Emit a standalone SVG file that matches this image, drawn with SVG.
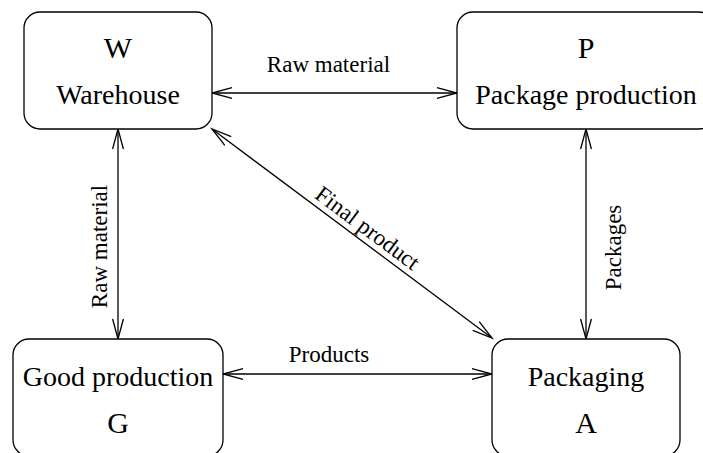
<svg xmlns="http://www.w3.org/2000/svg" width="703" height="453" viewBox="0 0 703 453">
  <style>
    .box { fill: #ffffff; stroke: #000000; stroke-width: 1.3; }
    .name { font-size: 28px; text-anchor: middle; fill: #000000; }
    .letter { font-size: 30px; text-anchor: middle; fill: #000000; }
    .edge { fill: none; stroke: #000000; stroke-width: 1.3; marker-start: url(#head); marker-end: url(#head); }
    .elabel { font-size: 23px; text-anchor: middle; fill: #000000; }
  </style>
  <defs>
    <!-- open V arrowhead, used at both ends of every connector -->
    <marker id="head" markerUnits="userSpaceOnUse" markerWidth="24" markerHeight="14" refX="22" refY="7" orient="auto-start-reverse" overflow="visible">
      <path d="M 2 1.6 L 22 7 L 2 12.4" fill="none" stroke="#000000" stroke-width="1.3"/>
    </marker>
  </defs>
  <rect width="703" height="453" fill="#ffffff"/>

  <g font-family="'Liberation Serif', 'DejaVu Serif', serif">
    <!-- connectors -->
    <g id="connectors">
      <line class="edge" x1="212" y1="93" x2="457" y2="93"/>
      <line class="edge" x1="118" y1="129" x2="118" y2="339"/>
      <line class="edge" x1="586" y1="129" x2="586" y2="339"/>
      <line class="edge" x1="223" y1="374" x2="492" y2="374"/>
      <line class="edge" x1="212" y1="129" x2="492" y2="338"/>
      <text class="elabel" x="328.5" y="72">Raw material</text>
      <text class="elabel" x="329" y="362">Products</text>
      <text class="elabel" transform="translate(107,246.5) rotate(-90)">Raw material</text>
      <text class="elabel" transform="translate(621,247.5) rotate(-90)">Packages</text>
      <text class="elabel" transform="translate(359.4,239) rotate(36.7)" y="-6">Final product</text>
    </g>

    <!-- nodes -->
    <g id="node-W">
      <rect class="box" x="24" y="12" width="188" height="117" rx="16" ry="16"/>
      <text class="letter" x="118" y="58">W</text>
      <text class="name" x="118" y="104">Warehouse</text>
    </g>
    <g id="node-P">
      <rect class="box" x="457" y="12" width="258" height="117" rx="16" ry="16"/>
      <text class="letter" x="586" y="58">P</text>
      <text class="name" x="586" y="104">Package production</text>
    </g>
    <g id="node-G">
      <rect class="box" x="13" y="339" width="210" height="117" rx="16" ry="16"/>
      <text class="name" x="118" y="386">Good production</text>
      <text class="letter" x="118" y="433">G</text>
    </g>
    <g id="node-A">
      <rect class="box" x="492" y="339" width="188" height="117" rx="16" ry="16"/>
      <text class="name" x="586" y="386">Packaging</text>
      <text class="letter" x="586" y="433">A</text>
    </g>
  </g>
</svg>
